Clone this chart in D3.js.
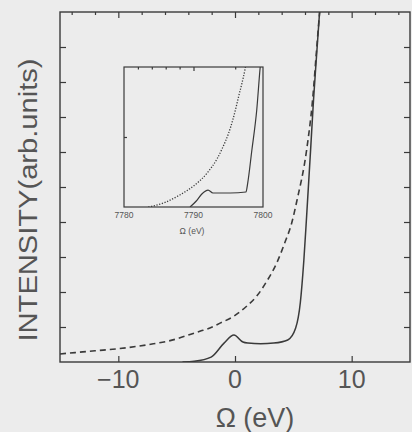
<!DOCTYPE html>
<html>
<head>
<meta charset="utf-8">
<script src="https://cdn.jsdelivr.net/npm/d3@7"></script>
<style>
  html, body { margin: 0; padding: 0; background: #ececec; }
  svg { display: block; }
</style>
</head>
<body>
<div id="chart"></div>
<script>
// main panel data
const xTicks = [-10, 0, 10];
const xMinorTicks = [-14, -12, -8, -6, -4, -2, 2, 4, 6, 8, 12, 14];
const yTicks = [1, 2, 3, 4, 5, 6, 7, 8, 9];

const dashedOmega = [-15, -12, -10, -7, -5.7, -2.9, -2.4, -1.28, -0.09, 1.02, 1.88, 2.73, 3.58, 4.26, 4.86, 5.3, 6.14, 6.65, 6.99, 7.25, 7.4];
const dashedInt   = [0.23, 0.32, 0.38, 0.52, 0.6, 0.89, 0.94, 1.11, 1.31, 1.6, 1.89, 2.31, 2.83, 3.4, 3.97, 4.6, 6.06, 7.49, 8.91, 9.97, 10.5];

const solidOmega = [-4.5, -3.5, -2.05, -0.94, -0.09, 0.68, 1.11, 2.2, 3.32, 4.52, 5.2, 5.6, 5.9, 6.14, 6.48, 6.73, 7.0, 7.25, 7.4];
const solidInt   = [0, 0.02, 0.14, 0.54, 0.77, 0.57, 0.54, 0.52, 0.54, 0.63, 0.97, 1.7, 2.9, 4.17, 6.06, 7.49, 8.8, 10, 10.8];

// inset data
const insetTicks = [7780, 7790, 7800];
const insetMinorTicks = [7782, 7784, 7786, 7788, 7796];
const dotOmega = [7783.5, 7784, 7786, 7788, 7790, 7792, 7793.4, 7794.2, 7795, 7795.7, 7796.5, 7797.4, 7797.7];
const dotInt   = [0, 0.05, 0.35, 0.85, 1.5, 2.45, 3.45, 4.25, 5.2, 6.3, 7.9, 9.8, 10.6];

const inSolidOmega = [7789.5, 7790.4, 7791.2, 7792.1, 7792.8, 7795.3, 7797.55, 7797.8, 7798.4, 7799.1, 7799.6, 7799.7];
const inSolidInt   = [0, 0.43, 0.93, 1.21, 1.0, 1.0, 1.07, 1.71, 4.07, 6.93, 10, 10.5];

const width = 412, height = 432;
const ink = '#3a3a3a', textInk = '#555';

const svg = d3.select('#chart')
    .append('svg')
    .attr('width', width)
    .attr('height', height);

svg.append('rect').attr('width', width).attr('height', height).attr('fill', '#ececec');

const plot = {left: 60, right: 410, top: 12, bottom: 362};

const x = d3.scaleLinear().domain([-15, 15]).range([plot.left, plot.right]);
const y = d3.scaleLinear().domain([0, 10]).range([plot.bottom, plot.top]);

svg.append('clipPath').attr('id', 'clipMain')
    .append('rect')
    .attr('x', plot.left).attr('y', plot.top)
    .attr('width', plot.right - plot.left).attr('height', plot.bottom - plot.top);

// axes: ticks point inward
const axisStyle = g => {
    g.selectAll('.domain').remove();
    g.selectAll('line').attr('stroke', ink).attr('stroke-width', 1.2);
};

svg.append('g')
    .attr('transform', 'translate(0,' + plot.bottom + ')')
    .call(d3.axisTop(x).tickValues(xTicks).tickSize(6).tickFormat(''))
    .call(axisStyle);

svg.append('g')
    .attr('transform', 'translate(0,' + plot.top + ')')
    .call(d3.axisBottom(x).tickValues(xTicks).tickSize(6).tickFormat(''))
    .call(axisStyle);

svg.append('g')
    .attr('transform', 'translate(0,' + plot.top + ')')
    .call(d3.axisBottom(x).tickValues(xMinorTicks).tickSize(3).tickFormat(''))
    .call(axisStyle);

svg.append('g')
    .attr('transform', 'translate(' + plot.left + ',0)')
    .call(d3.axisRight(y).tickValues(yTicks).tickSize(6).tickFormat(''))
    .call(axisStyle);

svg.append('g')
    .attr('transform', 'translate(' + plot.right + ',0)')
    .call(d3.axisLeft(y).tickValues(yTicks).tickSize(6).tickFormat(''))
    .call(axisStyle);

svg.append('rect')
    .attr('x', plot.left).attr('y', plot.top)
    .attr('width', plot.right - plot.left).attr('height', plot.bottom - plot.top)
    .attr('fill', 'none').attr('stroke', ink).attr('stroke-width', 1.4);

// tick labels
svg.append('g').selectAll('text')
    .data(xTicks)
    .join('text')
    .attr('x', d => x(d))
    .attr('y', 388)
    .attr('text-anchor', 'middle')
    .attr('font-family', 'Liberation Sans, Arial, sans-serif')
    .attr('font-size', 25)
    .attr('fill', textInk)
    .text(d => d < 0 ? '\u2212' + Math.abs(d) : d);

svg.append('text')
    .attr('x', 255)
    .attr('y', 427)
    .attr('text-anchor', 'middle')
    .attr('font-family', 'Liberation Sans, Arial, sans-serif')
    .attr('font-size', 27)
    .attr('fill', textInk)
    .text('\u03A9  (eV)');

svg.append('text')
    .attr('transform', 'translate(37,200) rotate(-90)')
    .attr('text-anchor', 'middle')
    .attr('font-family', 'Liberation Sans, Arial, sans-serif')
    .attr('font-size', 26)
    .attr('textLength', 283)
    .attr('lengthAdjust', 'spacingAndGlyphs')
    .attr('fill', textInk)
    .text('INTENSITY(arb.units)');

// main curves
const lineMain = d3.line()
    .x(d => x(d[0]))
    .y(d => y(d[1]))
    .curve(d3.curveMonotoneX);

svg.append('path')
    .datum(d3.zip(dashedOmega, dashedInt))
    .attr('clip-path', 'url(#clipMain)')
    .attr('fill', 'none')
    .attr('stroke', ink)
    .attr('stroke-width', 1.6)
    .attr('stroke-dasharray', '6,4')
    .attr('d', lineMain);

svg.append('path')
    .datum(d3.zip(solidOmega, solidInt))
    .attr('clip-path', 'url(#clipMain)')
    .attr('fill', 'none')
    .attr('stroke', ink)
    .attr('stroke-width', 1.5)
    .attr('d', lineMain);

// inset
const inset = {left: 124, right: 263, top: 67, bottom: 207};
const xi = d3.scaleLinear().domain([7780, 7800]).range([inset.left, inset.right]);
const yi = d3.scaleLinear().domain([0, 10]).range([inset.bottom, inset.top]);

svg.append('clipPath').attr('id', 'clipInset')
    .append('rect')
    .attr('x', inset.left).attr('y', inset.top)
    .attr('width', inset.right - inset.left).attr('height', inset.bottom - inset.top);

svg.append('g')
    .attr('transform', 'translate(0,' + inset.top + ')')
    .call(d3.axisBottom(xi).tickValues([7790]).tickSize(4).tickFormat(''))
    .call(axisStyle);

svg.append('g')
    .attr('transform', 'translate(0,' + inset.top + ')')
    .call(d3.axisBottom(xi).tickValues(insetMinorTicks).tickSize(2.5).tickFormat(''))
    .call(axisStyle);

svg.append('g')
    .attr('transform', 'translate(' + inset.left + ',0)')
    .call(d3.axisRight(yi).tickValues([5]).tickSize(3).tickFormat(''))
    .call(axisStyle);

svg.append('rect')
    .attr('x', inset.left).attr('y', inset.top)
    .attr('width', inset.right - inset.left).attr('height', inset.bottom - inset.top)
    .attr('fill', 'none').attr('stroke', ink).attr('stroke-width', 1.2);

svg.append('g').selectAll('text')
    .data(insetTicks)
    .join('text')
    .attr('x', d => xi(d))
    .attr('y', 218)
    .attr('text-anchor', 'middle')
    .attr('font-family', 'Liberation Sans, Arial, sans-serif')
    .attr('font-size', 8.5)
    .attr('fill', textInk)
    .text(d => d);

svg.append('text')
    .attr('x', 192)
    .attr('y', 234)
    .attr('text-anchor', 'middle')
    .attr('font-family', 'Liberation Sans, Arial, sans-serif')
    .attr('font-size', 8.5)
    .attr('fill', textInk)
    .text('\u03A9  (eV)');

const lineInset = d3.line()
    .x(d => xi(d[0]))
    .y(d => yi(d[1]))
    .curve(d3.curveMonotoneX);

svg.append('path')
    .datum(d3.zip(dotOmega, dotInt))
    .attr('clip-path', 'url(#clipInset)')
    .attr('fill', 'none')
    .attr('stroke', ink)
    .attr('stroke-width', 1.3)
    .attr('stroke-dasharray', '1.2,1.6')
    .attr('d', lineInset);

svg.append('path')
    .datum(d3.zip(inSolidOmega, inSolidInt))
    .attr('clip-path', 'url(#clipInset)')
    .attr('fill', 'none')
    .attr('stroke', ink)
    .attr('stroke-width', 1.2)
    .attr('d', lineInset);
</script>
</body>
</html>
